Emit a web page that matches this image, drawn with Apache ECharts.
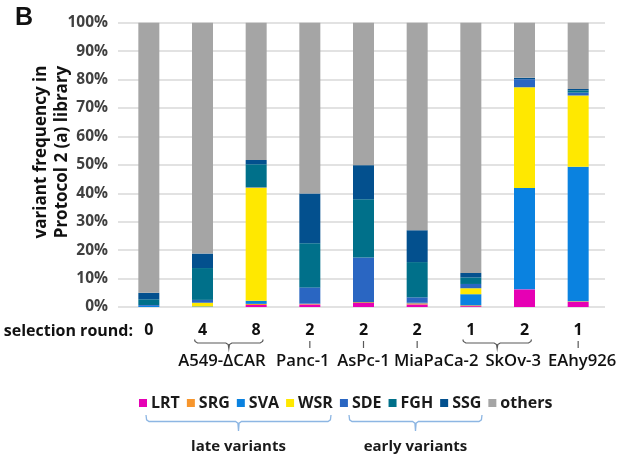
<!DOCTYPE html>
<html>
<head>
<meta charset="utf-8">
<script src="https://cdn.jsdelivr.net/npm/echarts@6/dist/echarts.min.js"></script>
<style>
  html, body { margin: 0; padding: 0; background: #fff; }
  #chart { width: 624px; height: 460px; }
</style>
</head>
<body>
<div id="chart"></div>
<script>
// Cell line of each bar ('' = starting library) and its selection round
const cellLines = ['', 'A549-ΔCAR', 'A549-ΔCAR', 'Panc-1', 'AsPc-1', 'MiaPaCa-2', 'SkOv-3', 'SkOv-3', 'EAhy926'];
const rounds = ['0', '4', '8', '2', '2', '2', '1', '2', '1'];

// Variant frequencies (%) per bar, stacked bottom to top
const LRT    = [0,    0,    0.7,  0.9,  1.4,  0.9,  0.3,  6.2,  1.8];
const SRG    = [0,    0,    0.4,  0.2,  0.3,  0.4,  0.3,  0,    0.2];
const SVA    = [0.4,  0.2,  1.1,  0.1,  0,    0.2,  3.9,  35.7, 47.3];
const WSR    = [0,    1.3,  39.8, 0,    0,    0,    2.1,  35.4, 25.1];
const SDE    = [0.3,  1.0,  0.2,  5.7,  15.7, 1.9,  1.5,  2.8,  1.0];
const FGH    = [2.0,  11.2, 8.0,  15.5, 20.5, 12.4, 2.3,  0,    0.8];
const SSG    = [2.3,  5.1,  1.5,  17.5, 12.0, 11.2, 1.6,  0.5,  0.5];
const others = [95.0, 81.2, 48.3, 60.1, 50.1, 73.0, 88.0, 19.4, 23.3];

const variantNames = ['LRT', 'SRG', 'SVA', 'WSR', 'SDE', 'FGH', 'SSG', 'others'];
const variantValues = [LRT, SRG, SVA, WSR, SDE, FGH, SSG, others];
const variantColors = ['#e600b4', '#f7962d', '#0a82e0', '#ffe800', '#2a66c2', '#00708a', '#03508e', '#a5a5a5'];

// Horizontal nudge of each cell-line name relative to its bracket, so neighbours don't collide
const nameShift = { 'A549-ΔCAR': -7, 'Panc-1': -7, 'AsPc-1': 0, 'MiaPaCa-2': 19, 'SkOv-3': 16, 'EAhy926': 4 };

const FONT = '"Open Sans", "Liberation Sans", sans-serif';
const categoryIds = rounds.map((r, i) => String(i));

const chart = echarts.init(document.getElementById('chart'), null, { renderer: 'canvas' });

chart.setOption({
  animation: false,
  backgroundColor: '#fff',
  grid: { left: 122, right: 19, top: 22.7, bottom: 153, containLabel: false },
  legend: {
    data: variantNames,
    left: 139, top: 395, padding: 0,
    itemWidth: 8, itemHeight: 8, itemGap: 7,
    icon: 'rect',
    selectedMode: false,
    textStyle: { fontFamily: FONT, fontSize: 16, fontWeight: 'bold', color: '#1a1a1a', padding: [0, 0, 0, -1] }
  },
  xAxis: {
    type: 'category',
    data: categoryIds,
    axisLine: { show: false },
    axisTick: { show: false },
    axisLabel: {
      margin: 15,
      formatter: (v, i) => rounds[i],
      fontFamily: FONT, fontSize: 16, fontWeight: 'bold', color: '#111'
    }
  },
  yAxis: {
    type: 'value',
    min: 0, max: 100, interval: 10,
    axisLine: { show: false },
    axisTick: { show: true, length: 4, lineStyle: { color: '#d9d9d9', width: 1.5 } },
    splitLine: { lineStyle: { color: '#d9d9d9', width: 1.5 } },
    axisLabel: {
      margin: 14,
      formatter: '{value}%',
      fontFamily: FONT, fontSize: 15.5, fontWeight: 'bold', color: '#404040'
    }
  },
  series: variantNames.map((name, k) => ({
    name,
    type: 'bar',
    stack: 'freq',
    barWidth: 21,
    itemStyle: { color: variantColors[k] },
    data: variantValues[k]
  }))
});

// Curly-ish bracket from L to R: ends rise to yTop, bar at yMid, centre tip at yTip
function bracketPoints(L, R, yTop, yMid, yTip) {
  const c = (L + R) / 2;
  return [
    [L, yTop], [L + 0.6, yMid - 1.6], [L + 3, yMid],
    [c - 3, yMid], [c - 0.6, yMid + 1.6], [c, yTip], [c + 0.6, yMid + 1.6], [c + 3, yMid],
    [R - 3, yMid], [R - 0.6, yMid - 1.6], [R, yTop]
  ];
}

// Annotations: axis caption, cell-line brackets and names, variant groupings
function buildAnnotations() {
  const px = i => chart.convertToPixel({ xAxisIndex: 0 }, i);
  const gray = '#595959';
  const items = [];

  // Panel letter
  items.push({ type: 'text', x: 24, y: 18,
    style: { text: 'B', align: 'center', verticalAlign: 'middle',
      font: 'bold 25px "Liberation Sans", Arial, sans-serif', fill: '#111' } });

  // Rotated y-axis title (two lines)
  items.push({ type: 'text', x: 52, y: 152, rotation: Math.PI / 2,
    style: { text: 'variant frequency in\nProtocol 2 (a) library', align: 'center', verticalAlign: 'middle',
      font: 'bold 17px ' + FONT, lineHeight: 21, fill: '#111' } });

  // Row caption for the selection rounds
  items.push({ type: 'text', x: 133, y: 331,
    style: { text: 'selection round:', align: 'right', verticalAlign: 'middle',
      font: 'bold 16px ' + FONT, fill: '#111' } });

  // Group consecutive bars by cell line
  const groups = [];
  cellLines.forEach((name, i) => {
    if (!name) return;
    const last = groups[groups.length - 1];
    if (last && last.name === name && last.to === i - 1) last.to = i;
    else groups.push({ name, from: i, to: i });
  });

  groups.forEach(g => {
    let c = (px(g.from) + px(g.to)) / 2;
    if (g.from === g.to) {
      items.push({ type: 'line', shape: { x1: c, y1: 341, x2: c, y2: 348 },
        style: { stroke: gray, lineWidth: 1.2 } });
    } else {
      const L = px(g.from) - 8, R = px(g.to) + 7;
      c = (L + R) / 2;
      items.push({ type: 'polyline',
        shape: { points: bracketPoints(L, R, 339.5, 343, 348.5) },
        style: { stroke: gray, lineWidth: 1.2, fill: null } });
    }
    items.push({ type: 'text', x: c + (nameShift[g.name] || 0), y: 361, scaleX: 1.04,
      style: { text: g.name, align: 'center', verticalAlign: 'middle', font: '600 16px ' + FONT, fill: '#111' } });
  });

  // Variant group braces under the legend
  const blue = '#8db6e3';
  const brace = (L, R, label) => {
    items.push({ type: 'polyline',
      shape: { points: bracketPoints(L, R, 415, 421.5, 431) },
      style: { stroke: blue, lineWidth: 1.3, fill: null } });
    items.push({ type: 'text', x: (L + R) / 2, y: 447,
      style: { text: label, align: 'center', verticalAlign: 'middle', font: 'bold 15px ' + FONT, fill: '#1a1a1a' } });
  };
  brace(146, 331, 'late variants');
  brace(349, 482, 'early variants');

  chart.setOption({ graphic: { elements: items } });
}
buildAnnotations();
</script>
</body>
</html>
